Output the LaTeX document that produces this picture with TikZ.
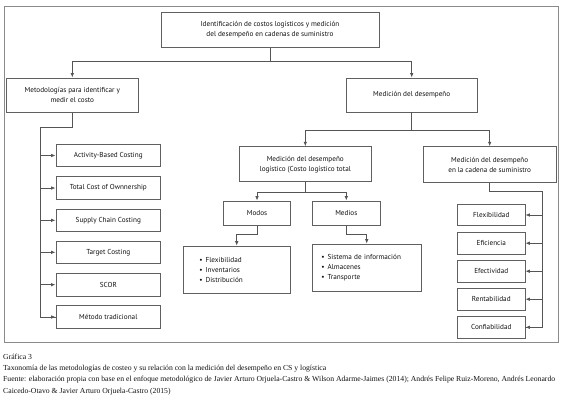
\documentclass[tikz,border=0pt]{standalone}
\usepackage{fontspec}
\setmainfont{PT Sans}
\newfontfamily\capfont{Liberation Serif}
\usetikzlibrary{arrows.meta}
\definecolor{linegray}{HTML}{555555}
\definecolor{boxgray}{HTML}{606060}
\definecolor{framegray}{HTML}{8A8A8A}
\definecolor{txt}{HTML}{111111}
\tikzset{
  box/.style={draw=boxgray, line width=0.8pt, fill=white, inner sep=1pt, align=center,
    font=\fontsize{7.2}{10}\selectfont, text=txt},
  ln/.style={draw=linegray, line width=0.8pt},
  arr/.style={ln, -{Latex[length=4.5pt,width=3.6pt]}},
  capt/.style={anchor=west, inner sep=0pt, font=\capfont\fontsize{7.7}{8}\selectfont, text=txt}
}
\begin{document}
\begin{tikzpicture}[x=1pt,y=-1pt]
\useasboundingbox (0,0) rectangle (580,402);
\draw[framegray, line width=0.8pt] (4,6.7) rectangle (558.3,342.7);
% top
\node[box, minimum width=218pt, minimum height=34.6pt] (top) at (270,30)
  {Identificación de costos logísticos y medición\\del desempeño en cadenas de suministro};
\node[box, minimum width=131.3pt, minimum height=34.7pt] (meth) at (72.3,95.3)
  {Metodologías para identificar y\\medir el costo};
\node[box, minimum width=131pt, minimum height=34pt] (med) at (411.7,95)
  {Medición del desempeño};
\draw[arr] (top.south) -- ++(0,13.7) -| (meth.north);
\draw[arr] (top.south) -- ++(0,13.7) -| (med.north);
% second level
\node[box, minimum width=132.7pt, minimum height=35pt] (log) at (305.3,164.2)
  {Medición del desempeño\\logístico (Costo logístico total};
\node[box, minimum width=132.7pt, minimum height=35.6pt] (cs) at (489.7,164.5)
  {Medición del desempeño\\en la cadena de suministro};
\draw[arr] (med.south) -- ++(0,17.6) -| (log.north);
\draw[arr] (med.south) -- ++(0,17.6) -| (cs.north);
% modos / medios
\node[box, minimum width=67.4pt, minimum height=24.7pt] (modos) at (257,213.3) {Modos};
\node[box, minimum width=67.3pt, minimum height=24.7pt] (medios) at (346.3,213.3) {Medios};
\draw[arr] (log.south) -- ++(0,10) -| (modos.north);
\draw[arr] (log.south) -- ++(0,10) -| (medios.north);
\node[box, minimum width=106.7pt, minimum height=47.3pt, text width=74.7pt, inner xsep=16pt, align=left] (list1) at (236.7,269.7)
  {•\hspace{3pt}Flexibilidad\\•\hspace{3pt}Inventarios\\•\hspace{3pt}Distribución};
\node[box, minimum width=108.7pt, minimum height=47.3pt, text width=90.7pt, inner xsep=9pt, align=left] (list2) at (366.7,267.7)
  {•\hspace{3pt}Sistema de información\\•\hspace{3pt}Almacenes\\•\hspace{3pt}Transporte};
\draw[arr] (modos.south) -- ++(0,8.3) -| (list1.north);
\draw[arr] (medios.south) -- ++(0,8.3) -| (list2.north);
% left column
\node[box, minimum width=104.7pt, minimum height=22.7pt] (m1) at (108.3,155.5) {Activity-Based Costing};
\node[box, minimum width=104.7pt, minimum height=22.7pt] (m2) at (108.3,188) {Total Cost of Ownnership};
\node[box, minimum width=104.7pt, minimum height=22.7pt] (m3) at (108.3,220.3) {Supply Chain Costing};
\node[box, minimum width=104.7pt, minimum height=22.7pt] (m4) at (108.3,252.3) {Target Costing};
\node[box, minimum width=104.7pt, minimum height=22.7pt] (m5) at (108.3,284.7) {SCOR};
\node[box, minimum width=104.7pt, minimum height=22.7pt] (m6) at (108.3,317) {Método tradicional};
\coordinate (lsp) at (40.7,127);
\draw[ln] (meth.south) |- (lsp) |- (m6.west);
\foreach \i in {1,...,6} \draw[arr] (lsp |- m\i.west) -- (m\i.west);
% right column
\node[box, minimum width=67.3pt, minimum height=21.5pt] (r1) at (491.3,215) {Flexibilidad};
\node[box, minimum width=67.3pt, minimum height=21.5pt] (r2) at (491.3,243.2) {Eficiencia};
\node[box, minimum width=67.3pt, minimum height=21.5pt] (r3) at (491.3,271.2) {Efectividad};
\node[box, minimum width=67.3pt, minimum height=21.5pt] (r4) at (491.3,299.2) {Rentabilidad};
\node[box, minimum width=67.3pt, minimum height=21.5pt] (r5) at (491.3,327.3) {Confiabilidad};
\coordinate (rsp) at (542.7,191.7);
\draw[ln] (cs.south) |- (rsp) |- (r5.east);
\foreach \i in {1,...,5} \draw[arr] (rsp |- r\i.east) -- (r\i.east);
% caption
\node[capt] (c1) at (3,357) {Gráfica 3};
\node[capt] (c2) at (3,368.5) {Taxonomía de las metodologías de costeo y su relación con la medición del desempeño en CS y logística};
\node[capt] (c3) at (3,380) {Fuente: elaboración propia con base en el enfoque metodológico de Javier Arturo Orjuela-Castro \& Wilson Adarme-Jaimes (2014); Andrés Felipe Ruiz-Moreno, Andrés Leonardo};
\node[capt] (c4) at (3,391.5) {Caicedo-Otavo \& Javier Arturo Orjuela-Castro (2015)};
\end{tikzpicture}
\end{document}
